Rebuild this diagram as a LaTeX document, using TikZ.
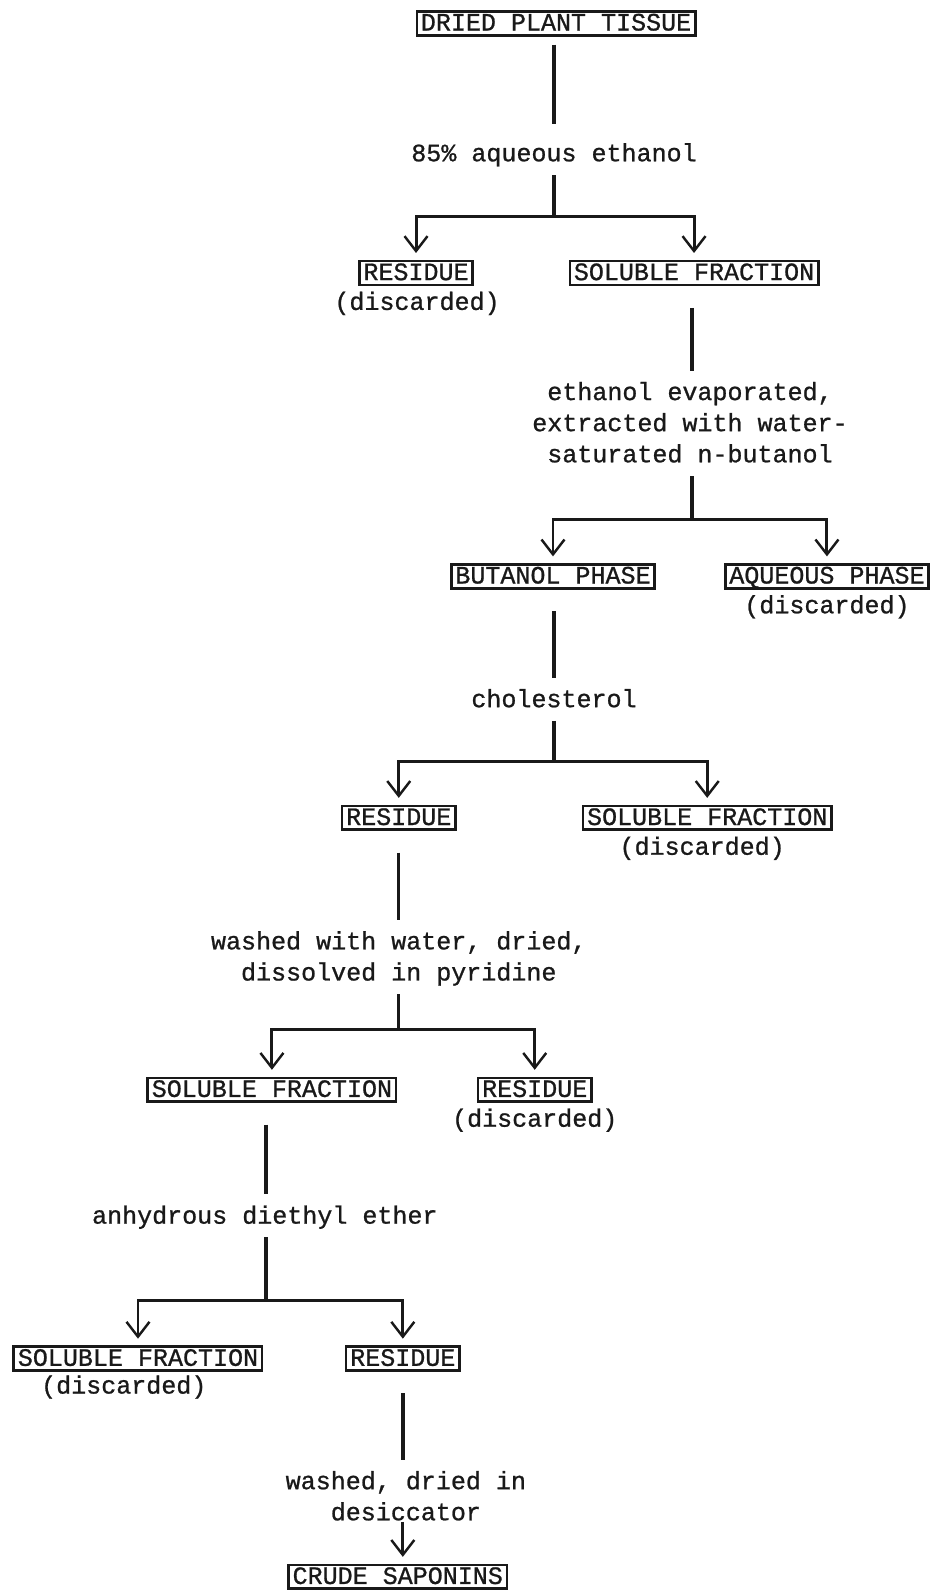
\documentclass[tikz,border=0pt]{standalone}
\usepackage{fontspec}
\setmainfont{Liberation Mono}[FakeBold=0.9]
\usepackage{tikz}
\usetikzlibrary{arrows.meta}
\colorlet{ink}{black!90}
\tikzset{
  link/.style={draw=ink, line width=2.5pt},
  branch/.style={draw=ink, line width=2.2pt,
    -{Straight Barb[length=11pt,width=17pt,line width=1.8pt]}, shorten >=5pt},
  stage/.style={draw=ink, line width=1.9pt, inner xsep=3pt, inner ysep=3.5pt,
    text height=10.6pt, text depth=0pt, font=\fontsize{18.5}{23}\selectfont, text=ink},
  reagent/.style={inner sep=0pt, align=center, text depth=0pt,
    font=\fontsize{18.5}{23}\selectfont, text=ink},
  fate/.style={inner sep=0pt, font=\fontsize{18.5}{23}\selectfont, text=ink}
}

\begin{document}
\begin{tikzpicture}[x=0.75pt,y=-0.75pt]
  \useasboundingbox (0,0) rectangle (918,1568);

  \node[stage] (tissue) at (548,23) {DRIED PLANT TISSUE};
  \node[reagent] (ethanol) at (546,150) {85\% aqueous ethanol};
  \coordinate (j1) at (546,213);
  \node[stage] (res1) at (410,269) {RESIDUE};
  \node[fate] (disc1) at (411,299) {(discarded)};
  \node[stage] (sol1) at (684,269) {SOLUBLE FRACTION};

  \node[reagent] (evap) at (680,416) {ethanol evaporated,\\extracted with water-\\saturated n-butanol};
  \coordinate (j2) at (682,512);
  \node[stage] (butanol) at (545,568) {BUTANOL PHASE};
  \node[stage] (aqueous) at (815,568) {AQUEOUS PHASE};
  \node[fate] (disc2) at (815,598) {(discarded)};

  \node[reagent] (chol) at (546,688) {cholesterol};
  \coordinate (j3) at (546,750);
  \node[stage] (res2) at (393,806) {RESIDUE};
  \node[stage] (sol2) at (697,806) {SOLUBLE FRACTION};
  \node[fate] (disc3) at (692,836) {(discarded)};

  \node[reagent] (wash) at (393,942) {washed with water, dried,\\dissolved in pyridine};
  \coordinate (j4) at (393,1015);
  \node[stage] (sol3) at (268,1074) {SOLUBLE FRACTION};
  \node[stage] (res3) at (527,1074) {RESIDUE};
  \node[fate] (disc4) at (527,1104) {(discarded)};

  \node[reagent] (ether) at (261,1197) {anhydrous diethyl ether};
  \coordinate (j5) at (262,1282);
  \node[stage] (sol4) at (136,1339) {SOLUBLE FRACTION};
  \node[fate] (disc5) at (122,1367) {(discarded)};
  \node[stage] (res4) at (397,1339) {RESIDUE};

  \node[reagent] (desic) at (400,1474) {washed, dried in\\desiccator};
  \node[stage] (crude) at (392,1554) {CRUDE SAPONINS};

  \draw[link, shorten <=6pt, shorten >=14pt] (tissue.south -| j1) -- (ethanol.north -| j1);
  \draw[link, shorten <=10pt] (ethanol.south -| j1) -- (j1);
  \draw[branch] (j1) -| (res1.north);
  \draw[branch] (j1) -| (sol1.north);

  \draw[link, shorten <=16pt, shorten >=8pt] (sol1.south -| j2) -- (evap.north -| j2);
  \draw[link, shorten <=10pt] (evap.south -| j2) -- (j2);
  \draw[branch] (j2) -| (butanol.north);
  \draw[branch] (j2) -| (aqueous.north);

  \draw[link, shorten <=16pt, shorten >=8pt] (butanol.south -| j3) -- (chol.north -| j3);
  \draw[link, shorten <=10pt] (chol.south -| j3) -- (j3);
  \draw[branch] (j3) -| (res2.north);
  \draw[branch] (j3) -| (sol2.north);

  \draw[link, shorten <=16pt, shorten >=8pt] (res2.south -| j4) -- (wash.north -| j4);
  \draw[link, shorten <=10pt] (wash.south -| j4) -- (j4);
  \draw[branch] (j4) -| (sol3.north);
  \draw[branch] (j4) -| (res3.north);

  \draw[link, shorten <=16pt, shorten >=8pt] (sol3.south -| j5) -- (ether.north -| j5);
  \draw[link, shorten <=10pt] (ether.south -| j5) -- (j5);
  \draw[branch] (j5) -| (sol4.north);
  \draw[branch] (j5) -| (res4.north);

  \draw[link, shorten <=16pt, shorten >=8pt] (res4.south) -- (res4 |- desic.north);
  \draw[branch, line width=2pt, shorten <=1pt] (desic.south -| res4) -- (crude.north -| res4);
\end{tikzpicture}
\end{document}
